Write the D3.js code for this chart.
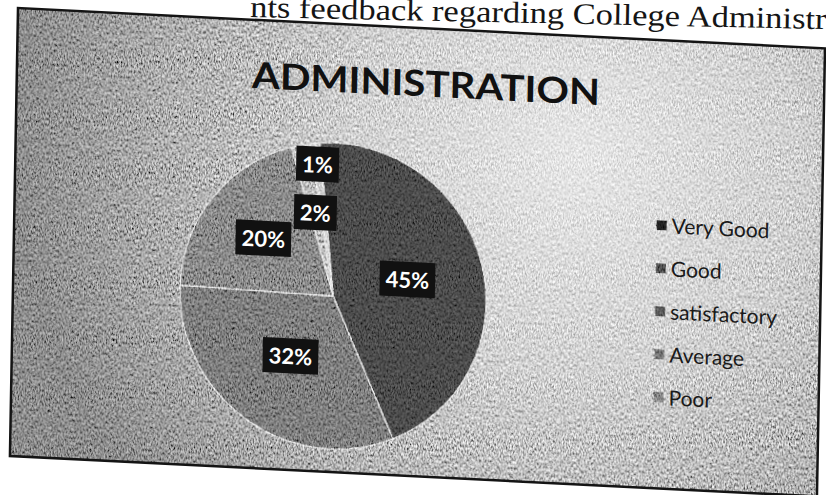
<!DOCTYPE html>
<html>
<head>
<meta charset="utf-8">
<script src="https://cdn.jsdelivr.net/npm/d3@7"></script>
<style>
  html, body { margin: 0; padding: 0; background: #fff; }
  svg { display: block; }
</style>
</head>
<body>
<div id="chart"></div>
<script>
const categories = ["Very Good", "Good", "satisfactory", "Average", "Poor"];
const shares = [45, 32, 20, 2, 1];
const shareLabels = ["45%", "32%", "20%", "2%", "1%"];
const chartTitle = "ADMINISTRATION";
const pageLine = "nts feedback regarding College Administration";

const GREYS = ["#4c4c4c", "#7e7e7e", "#8a8a8a", "#bdbdbd", "#d2d2d2"];
// label distance from centre, fraction of radius (roughly excel "best fit")
const LABEL_R = [0.5, 0.49, 0.58, 0.55, 0.86];

const W = 826, H = 495;
const svg = d3.select("#chart").append("svg")
    .attr("width", W)
    .attr("height", H);

const defs = svg.append("defs");

// photocopy grain
const grain = defs.append("filter")
    .attr("id", "grain")
    .attr("x", 0).attr("y", 0).attr("width", "100%").attr("height", "100%");
grain.append("feTurbulence")
    .attr("type", "fractalNoise")
    .attr("baseFrequency", "0.7 0.35")
    .attr("numOctaves", 2)
    .attr("seed", 7)
    .attr("result", "noise");
grain.append("feColorMatrix")
    .attr("in", "noise")
    .attr("type", "matrix")
    .attr("values", "1.8 0 0 0 -0.4  1.8 0 0 0 -0.4  1.8 0 0 0 -0.4  0 0 0 0 1")
    .attr("result", "grey");
grain.append("feBlend")
    .attr("in", "grey")
    .attr("in2", "SourceGraphic")
    .attr("mode", "overlay")
    .attr("result", "mixed");
grain.append("feComposite")
    .attr("in", "mixed")
    .attr("in2", "SourceAlpha")
    .attr("operator", "in");

const paper = defs.append("radialGradient")
    .attr("id", "paper")
    .attr("gradientUnits", "userSpaceOnUse")
    .attr("cx", 560).attr("cy", 120).attr("r", 560);
paper.append("stop").attr("offset", 0).attr("stop-color", "#e6e6e6");
paper.append("stop").attr("offset", 0.4).attr("stop-color", "#d0d0d0");
paper.append("stop").attr("offset", 0.75).attr("stop-color", "#acacac");
paper.append("stop").attr("offset", 1).attr("stop-color", "#8c8c8c");

// the line of the printed page above the figure
svg.append("text")
    .attr("transform", "translate(250,17) rotate(1.2) scale(1.15,1)")
    .attr("font-family", "Liberation Serif")
    .attr("font-size", 30)
    .attr("fill", "#151515")
    .text(pageLine);

// chart sheet, slightly skewed as photographed
const FW = 807, FH = 448;
const frame = svg.append("g")
    .attr("transform", "matrix(1,0.05,-0.018,1,18,8)");

const textured = frame.append("g").attr("filter", "url(#grain)");
textured.append("rect")
    .attr("width", FW)
    .attr("height", FH)
    .attr("fill", "url(#paper)");

// Pie
const cx = 320, cy = 272, R = 153;
const start = -6 * Math.PI / 180;
const pie = d3.pie()
    .sort(null)
    .startAngle(start)
    .endAngle(start + 2 * Math.PI);
const arcs = pie(shares);
const arc = d3.arc().innerRadius(0).outerRadius(R);

textured.append("g")
    .attr("transform", "translate(" + cx + "," + cy + ")")
    .selectAll("path")
    .data(arcs)
    .join("path")
    .attr("d", arc)
    .attr("fill", (d, i) => GREYS[i])
    .attr("stroke", "#e6e6e6")
    .attr("stroke-width", 1.2);

// Legend markers
const legX = 642, legY = 185, legStep = 43;
textured.append("g")
    .selectAll("rect")
    .data(categories)
    .join("rect")
    .attr("x", legX)
    .attr("y", (d, i) => legY + i * legStep - 5)
    .attr("width", 10)
    .attr("height", 10)
    .attr("fill", (d, i) => i === 0 ? "#222" : d3.color(GREYS[i]).darker(1.2));

frame.append("rect")
    .attr("width", FW)
    .attr("height", FH)
    .attr("fill", "none")
    .attr("stroke", "#141414")
    .attr("stroke-width", 2.5);

// Title
frame.append("text")
    .attr("x", 409)
    .attr("y", 68)
    .attr("text-anchor", "middle")
    .attr("font-family", "Lato")
    .attr("font-weight", "bold")
    .attr("font-size", 36)
    .attr("textLength", 348)
    .attr("lengthAdjust", "spacingAndGlyphs")
    .attr("fill", "#111")
    .text(chartTitle);

// Data labels
const labels = frame.append("g")
    .attr("transform", "translate(" + cx + "," + cy + ")")
    .selectAll("g")
    .data(arcs)
    .join("g")
    .attr("transform", function (d, i) {
        let r = LABEL_R[i] * R;
        let p = d3.arc().innerRadius(r).outerRadius(r).centroid(d);
        return "translate(" + p[0] + "," + p[1] + ")";
    });
labels.append("text")
    .attr("text-anchor", "middle")
    .attr("dy", "0.36em")
    .attr("font-family", "Lato")
    .attr("font-weight", "bold")
    .attr("font-size", 22)
    .attr("fill", "#fff")
    .text((d, i) => shareLabels[i]);
labels.each(function () {
    let g = d3.select(this);
    let b = g.select("text").node().getBBox();
    g.insert("rect", "text")
        .attr("x", b.x - 6)
        .attr("y", b.y - 4)
        .attr("width", b.width + 12)
        .attr("height", b.height + 8)
        .attr("fill", "#111");
});

// Legend texts
frame.append("g")
    .selectAll("text")
    .data(categories)
    .join("text")
    .attr("x", legX + 15)
    .attr("y", (d, i) => legY + i * legStep)
    .attr("dy", "0.36em")
    .attr("font-family", "Lato")
    .attr("font-size", 21)
    .attr("fill", "#1a1a1a")
    .text(d => d);
</script>
</body>
</html>
